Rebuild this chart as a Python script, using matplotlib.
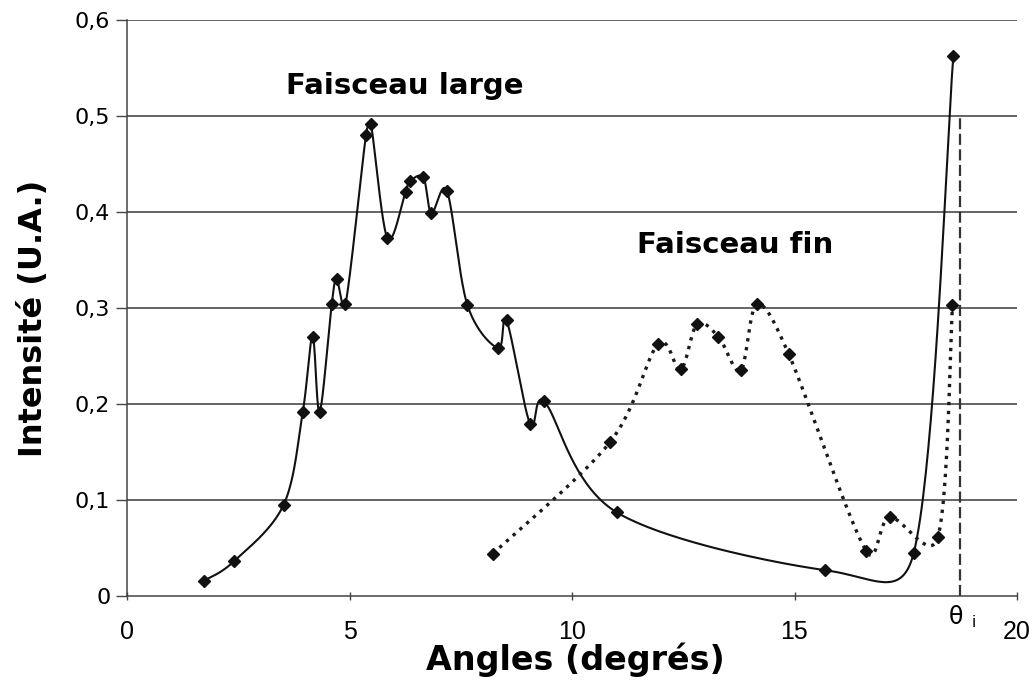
import numpy as np
import matplotlib
matplotlib.use("Agg")
import matplotlib.pyplot as plt
from matplotlib.ticker import FuncFormatter

# Faisceau large (solid, smoothed)
large_x = [1.73, 2.40, 3.52, 3.95, 4.17, 4.33, 4.60, 4.71, 4.91, 5.37, 5.48, 5.85,
           6.26, 6.36, 6.66, 6.84, 7.19, 7.65, 8.34, 8.53, 9.06, 9.37, 11.01,
           15.68, 17.68, 18.57]
large_y = [0.016, 0.036, 0.095, 0.192, 0.270, 0.192, 0.304, 0.330, 0.304, 0.480,
           0.492, 0.373, 0.421, 0.432, 0.436, 0.399, 0.422, 0.303, 0.258, 0.287,
           0.179, 0.203, 0.087, 0.027, 0.045, 0.563]

# Faisceau fin (dotted, smoothed)
fin_x = [8.22, 10.85, 11.93, 12.44, 12.81, 13.29, 13.79, 14.16, 14.87, 16.61,
         17.14, 18.22, 18.55]
fin_y = [0.044, 0.160, 0.262, 0.236, 0.283, 0.270, 0.235, 0.304, 0.252, 0.047,
         0.082, 0.061, 0.303]

theta_i = 18.72
x_ticks = [0, 5, 10, 15, 20]
y_ticks = [0, 0.1, 0.2, 0.3, 0.4, 0.5, 0.6]

W, H = 1034, 684
AX_L, AX_R, AX_T, AX_B = 127, 1017, 20, 596


def _cap(v, seg_len, ratio=0.55):
    n = np.hypot(*v)
    lim = ratio * seg_len
    if n > lim and n > 0:
        return v * lim / n
    return v


def excel_smooth(xs, ys, sx, sy, n=40):
    '''Bezier smoothing like a spreadsheet "smoothed line", done in pixel space.'''
    p = np.column_stack([np.asarray(xs) / sx, np.asarray(ys) / sy])
    out = [p[0]]
    t = np.linspace(0, 1, n)[1:, None]
    last = len(p) - 1
    for i in range(last):
        p0 = p[max(i - 1, 0)]
        p1 = p[i]
        p2 = p[i + 1]
        p3 = p[min(i + 2, last)]
        seg_len = np.hypot(*(p2 - p1))
        c1 = p1 + _cap((p2 - p0) / 6.0, seg_len)
        c2 = p2 - _cap((p3 - p1) / 6.0, seg_len)
        seg = ((1 - t) ** 3) * p1 + 3 * ((1 - t) ** 2) * t * c1 \
            + 3 * (1 - t) * (t ** 2) * c2 + (t ** 3) * p2
        out.extend(seg)
    out = np.array(out)
    return out[:, 0] * sx, out[:, 1] * sy


fig = plt.figure(figsize=(W / 100, H / 100), dpi=100)
ax = fig.add_axes([AX_L / W, 1 - AX_B / H, (AX_R - AX_L) / W, (AX_B - AX_T) / H])
ax.set_xlim(0, 20)
ax.set_ylim(0, 0.6)

sx = 20.0 / (AX_R - AX_L)
sy = 0.6 / (AX_B - AX_T)

for yv in y_ticks[1:]:
    ax.axhline(yv, color='#3a3a3a', lw=1.1, zorder=1)

cx, cy = excel_smooth(large_x, large_y, sx, sy)
ax.plot(cx, cy, color='#111111', lw=1.5, zorder=3, clip_on=False)
ax.plot(large_x, large_y, ls='none', marker='D', ms=6.3, color='#111111', zorder=4,
        clip_on=False)

fx, fy = excel_smooth(fin_x, fin_y, sx, sy)
ax.plot(fx, fy, color='#1a1a1a', lw=2.4, ls=(0, (1, 1.7)), zorder=3)
ax.plot(fin_x, fin_y, ls='none', marker='D', ms=6.3, color='#111111', zorder=4)

ax.plot([theta_i, theta_i], [0, 0.5], color='#333333', lw=1.6, ls=(0, (5, 2)),
        zorder=2)

for side in ['top', 'right']:
    ax.spines[side].set_visible(False)
for side in ['left', 'bottom']:
    ax.spines[side].set_color('#444444')
    ax.spines[side].set_linewidth(1.1)

ax.set_xticks(x_ticks)
ax.set_yticks(y_ticks)
ax.yaxis.set_major_formatter(FuncFormatter(
    lambda v, pos: '0' if v == 0 else ('%.1f' % v).replace('.', ',')))
ax.tick_params(axis='y', direction='out', length=8, width=1, color='#444444',
               labelsize=16, pad=4)
ax.tick_params(axis='x', direction='inout', length=6, width=1, color='#444444',
               labelsize=18, pad=14)
for lab in ax.get_yticklabels():
    lab.set_family('DejaVu Sans')
for lab in ax.get_xticklabels():
    lab.set_family('Liberation Sans')

ax.text(theta_i - 0.1, -0.022, 'θ', ha='center', va='center', fontsize=17,
        family='DejaVu Sans', clip_on=False)
ax.text(theta_i + 0.3, -0.028, 'i', ha='center', va='center', fontsize=11,
        family='DejaVu Sans', clip_on=False)

ax.text(6.25, 0.531, 'Faisceau large', ha='center', va='center', fontsize=21,
        fontweight='bold', family='DejaVu Sans')
ax.text(13.66, 0.366, 'Faisceau fin', ha='center', va='center', fontsize=21,
        fontweight='bold', family='DejaVu Sans')

fig.text(575 / W, 1 - 660 / H, 'Angles (degrés)', ha='center', va='center',
         fontsize=24, fontweight='bold', family='DejaVu Sans')
fig.text(34 / W, 1 - 318 / H, 'Intensité (U.A.)', ha='center', va='center',
         rotation=90, fontsize=23, fontweight='bold', family='DejaVu Sans')

fig.savefig('out.png', dpi=100)
